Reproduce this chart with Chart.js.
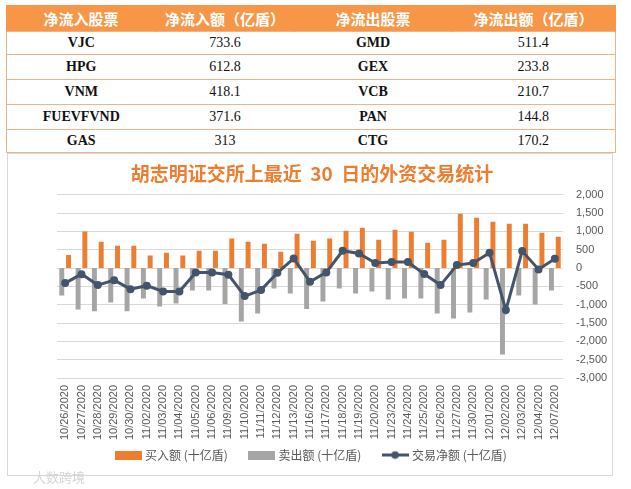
<!DOCTYPE html>
<html>
<head>
<meta charset="utf-8">
<script src="https://cdn.jsdelivr.net/npm/chart.js@4.4.0/dist/chart.umd.min.js"></script>
<style>
html,body{margin:0;padding:0;background:#fff;width:631px;height:489px;overflow:hidden;position:relative;}
#tbl{position:absolute;left:6px;top:5px;width:609px;border-collapse:collapse;table-layout:fixed;}
#tbl th{background:#F79646;color:#fff;height:26px;padding:0;font:bold 15px 'Noto Sans CJK SC',sans-serif;text-align:center;border-left:1px solid #F79646;border-right:1px solid #F79646;}
#tbl td{padding:0;text-align:center;border-top:1px solid #F4B183;border-bottom:1px solid #F4B183;font:14px 'Liberation Serif',serif;color:#111;}
#tbl td.code{font-weight:bold;}
#tbl td.first{border-left:1px solid #F4B183;}
#tbl td.last{border-right:1px solid #F4B183;}
#box{position:absolute;left:7px;top:153px;width:604px;height:321px;border:1px solid #D9D9D9;}
#chart{position:absolute;left:0;top:0;}
#wm{position:absolute;left:33px;top:470px;font:13px/1 'Noto Sans CJK SC',sans-serif;color:#d4d4d4;}
</style>
</head>
<body>
<table id="tbl">
<colgroup><col style="width:149px"><col style="width:139px"><col style="width:157px"><col style="width:164px"></colgroup>
<thead><tr id="hdr"></tr></thead>
<tbody id="tbody"></tbody>
</table>
<div id="box"><canvas id="chart" width="604" height="321"></canvas></div>
<div id="wm">大数跨境</div>
<script>
// ---- table data ----
const tableHeaders = ['净流入股票', '净流入额（亿盾）', '净流出股票', '净流出额（亿盾）'];
const inflowStocks = ['VJC', 'HPG', 'VNM', 'FUEVFVND', 'GAS'];
const inflowValues = ['733.6', '612.8', '418.1', '371.6', '313'];
const outflowStocks = ['GMD', 'GEX', 'VCB', 'PAN', 'CTG'];
const outflowValues = ['511.4', '233.8', '210.7', '144.8', '170.2'];

// ---- chart data ----
const chartTitle = '胡志明证交所上最近  30  日的外资交易统计';
const dates = ['10/26/2020','10/27/2020','10/28/2020','10/29/2020','10/30/2020','11/02/2020','11/03/2020','11/04/2020','11/05/2020','11/06/2020','11/09/2020','11/10/2020','11/11/2020','11/12/2020','11/13/2020','11/16/2020','11/17/2020','11/18/2020','11/19/2020','11/20/2020','11/23/2020','11/24/2020','11/25/2020','11/26/2020','11/27/2020','11/30/2020','12/01/2020','12/02/2020','12/03/2020','12/04/2020','12/07/2020'];
const buyValues = [360, 1000, 720, 610, 610, 340, 420, 340, 470, 470, 810, 720, 665, 446, 937, 746, 810, 1019, 1100, 773, 1046, 990, 690, 773, 1483, 1374, 1265, 1210, 1210, 965, 855];
const sellValues = [-750, -1130, -1180, -940, -1180, -830, -1050, -965, -610, -610, -983, -1456, -1238, -555, -692, -1120, -910, -555, -692, -637, -855, -828, -828, -1238, -1374, -1210, -855, -2357, -746, -992, -610];
const netValues = [-410, -165, -465, -330, -575, -480, -640, -640, -118, -118, -180, -765, -600, -130, 264, -373, -118, 473, 400, 136, 164, 164, -164, -464, 82, 136, 419, -1147, 464, -36, 255];
const seriesNames = ['买入额 (十亿盾)', '卖出额 (十亿盾)', '交易净额 (十亿盾)'];
const yTicks = [-3000, -2500, -2000, -1500, -1000, -500, 0, 500, 1000, 1500, 2000];

// build table
const rowHeights = [22, 24, 24, 24, 22];
const hdr = document.getElementById('hdr');
tableHeaders.forEach(h => { const th = document.createElement('th'); th.textContent = h; hdr.appendChild(th); });
const tbody = document.getElementById('tbody');
for (let i = 0; i < inflowStocks.length; i++) {
  const tr = document.createElement('tr');
  [[inflowStocks[i], 'code first'], [inflowValues[i], ''], [outflowStocks[i], 'code'], [outflowValues[i], 'last']].forEach(([t, c]) => {
    const td = document.createElement('td'); td.textContent = t; if (c) td.className = c;
    td.style.height = rowHeights[i] + 'px'; tr.appendChild(td);
  });
  tbody.appendChild(tr);
}

const ORANGE = '#ED7D31', GRAY = '#A5A5A5', NAVY = '#44546A';
function mkIcon(kind) {
  const c = document.createElement('canvas');
  c.width = 27; c.height = 9;
  const x = c.getContext('2d');
  if (kind === 'line') {
    x.strokeStyle = NAVY; x.lineWidth = 3;
    x.beginPath(); x.moveTo(0, 4.5); x.lineTo(27, 4.5); x.stroke();
    x.fillStyle = NAVY; x.beginPath(); x.arc(13.5, 4.5, 3.8, 0, Math.PI * 2); x.fill();
  } else {
    x.fillStyle = kind; x.fillRect(0, 0, 27, 9);
  }
  return c;
}
const icons = [mkIcon(ORANGE), mkIcon(GRAY), mkIcon('line')];
const gapPad = ['\u3000 ', '\u3000 ', ''];

new Chart(document.getElementById('chart'), {
  data: {
    labels: dates,
    datasets: [
      { type: 'bar', label: seriesNames[0], data: buyValues, backgroundColor: ORANGE, order: 2,
        categoryPercentage: 0.83, barPercentage: 0.73 },
      { type: 'bar', label: seriesNames[1], data: sellValues, backgroundColor: GRAY, order: 1,
        categoryPercentage: 0.83, barPercentage: 0.73 },
      { type: 'line', label: seriesNames[2], data: netValues, borderColor: NAVY, backgroundColor: NAVY,
        borderWidth: 3, pointRadius: 4, pointBackgroundColor: NAVY, pointBorderWidth: 0, tension: 0, order: 0 }
    ]
  },
  options: {
    responsive: false,
    animation: false,
    layout: { padding: { left: 9, right: 5, top: 0, bottom: 4 } },
    plugins: {
      tooltip: { enabled: false },
      title: {
        display: true, text: chartTitle, color: ORANGE,
        font: { family: "'Noto Sans CJK SC'", size: 19, weight: 'bold' },
        padding: { top: 8, bottom: 10 }
      },
      legend: {
        position: 'bottom',
        labels: {
          usePointStyle: true, pointStyleWidth: 22, boxHeight: 9, padding: 8,
          color: '#595959', font: { family: "'Noto Sans CJK SC'", size: 12 },
          sort: (a, b) => a.datasetIndex - b.datasetIndex,
          generateLabels: (chart) => chart.data.datasets.map((ds, i) => ({
            text: ds.label + gapPad[i], datasetIndex: i, pointStyle: icons[i], fillStyle: 'transparent',
            strokeStyle: 'transparent', lineWidth: 0, fontColor: '#595959', hidden: false
          }))
        }
      }
    },
    scales: {
      x: {
        grid: { display: false, drawTicks: false },
        border: { display: false },
        afterFit: (s) => { s.height = 63; },
        ticks: { autoSkip: false, minRotation: 90, maxRotation: 90, padding: 7, color: '#595959',
          font: { family: "'Liberation Sans'", size: 11 } }
      },
      yl: {
        position: 'left', display: true, min: -3000, max: 2000,
        grid: { display: false, drawTicks: false }, border: { display: false },
        ticks: { display: false },
        afterFit: (s) => { s.width = 40; }
      },
      y: {
        position: 'right', min: -3000, max: 2000,
        afterBuildTicks: (s) => { s.ticks = yTicks.map(v => ({ value: v })); },
        afterFit: (s) => { s.width = 44; },
        grid: { color: '#D9D9D9', drawTicks: false },
        border: { display: false },
        ticks: { padding: 13, color: '#595959', font: { family: "'Liberation Sans'", size: 11 },
          callback: (v) => Number(v).toLocaleString('en-US') }
      }
    }
  }
});
</script>
</body>
</html>
